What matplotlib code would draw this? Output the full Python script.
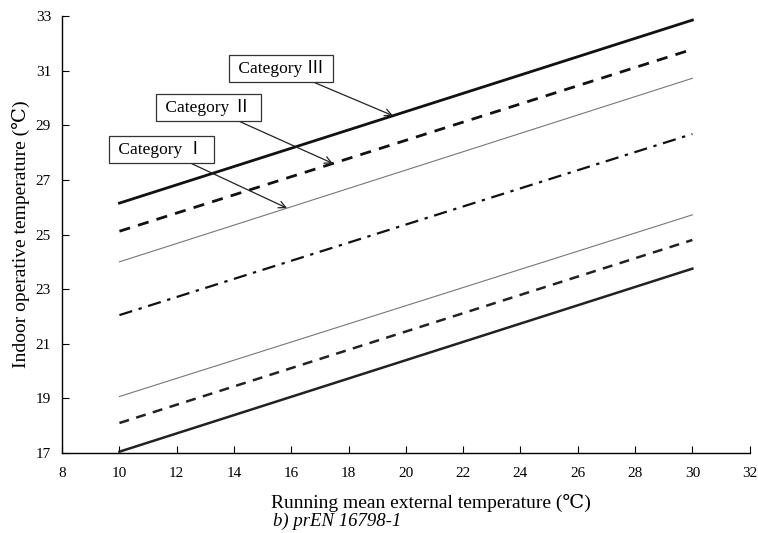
import matplotlib

matplotlib.use('Agg')
import matplotlib.pyplot as plt

plt.rcParams['font.family'] = ['Liberation Serif', 'DejaVu Serif', 'Noto Sans CJK JP']
plt.rcParams['xtick.direction'] = 'in'
plt.rcParams['ytick.direction'] = 'in'
plt.rcParams['axes.linewidth'] = 1.0

# running mean external temperature at the two ends of each line
x_ends = [10, 30]

# indoor operative temperature limits
upper_iii = [26.15, 32.85]
upper_ii = [25.12, 31.78]
upper_i = [24.0, 30.72]
neutral = [22.05, 28.68]
lower_i = [19.07, 25.72]
lower_ii = [18.1, 24.8]
lower_iii = [17.05, 23.75]

x_ticks = [8, 10, 12, 14, 16, 18, 20, 22, 24, 26, 28, 30, 32]
y_ticks = [17, 19, 21, 23, 25, 27, 29, 31, 33]

# label text, text position, arrow target
labels = ["Category Ⅰ", "Category Ⅱ", "Category Ⅲ"]
label_pos = [(11.47, 28.11), (13.11, 29.65), (15.64, 31.08)]
arrow_x = [15.85, 17.45, 19.55]


def main():
    fig = plt.figure(figsize=(7.58, 5.33), dpi=100)
    ax = fig.add_axes([0.082, 0.150, 0.907, 0.820])

    ax.plot(x_ends, upper_iii, color='#111111', lw=2.0, ls='-')
    ax.plot(x_ends, upper_ii, color='#111111', lw=2.0, ls=(0, (4, 3)))
    ax.plot(x_ends, upper_i, color='#777777', lw=0.8, ls='-')
    ax.plot(x_ends, neutral, color='#111111', lw=1.6, ls=(0, (6, 3, 1.5, 3)))
    ax.plot(x_ends, lower_i, color='#777777', lw=0.8, ls='-')
    ax.plot(x_ends, lower_ii, color='#222222', lw=1.8, ls=(0, (4, 3)))
    ax.plot(x_ends, lower_iii, color='#222222', lw=1.8, ls='-')

    line_for = [upper_i, upper_ii, upper_iii]
    for txt, pos, ax_x, ln in zip(labels, label_pos, arrow_x, line_for):
        ay = ln[0] + (ln[1] - ln[0]) * (ax_x - x_ends[0]) / (x_ends[1] - x_ends[0])
        ax.annotate(" " + txt + " ", xy=(ax_x, ay), xytext=pos, ha='center', va='center',
                    fontsize=12.5, family=['Liberation Serif', 'Noto Sans CJK JP'],
                    bbox=dict(boxstyle='square,pad=0.3', fc='white', ec='#333333', lw=0.9),
                    arrowprops=dict(arrowstyle='->', color='#222222', lw=0.9,
                                    shrinkA=0, shrinkB=0))

    ax.set_xlim(8, 32)
    ax.set_ylim(17, 33)
    ax.set_xticks(x_ticks)
    ax.set_yticks(y_ticks)
    ax.tick_params(axis='x', length=5, pad=10, labelsize=11)
    ax.tick_params(axis='y', length=5, pad=8, labelsize=11)
    ax.spines['top'].set_visible(False)
    ax.spines['right'].set_visible(False)

    fig.text(0.569, 0.056, "Running mean external temperature (℃)",
             ha='center', va='center', fontsize=14)
    fig.text(0.445, 0.022, "b) prEN 16798-1", ha='center', va='center',
             fontsize=13.5, style='italic')
    fig.text(0.028, 0.56, "Indoor operative temperature (℃)",
             ha='center', va='center', fontsize=14, rotation=90)

    plt.savefig('out.png')


if __name__ == '__main__':
    main()
